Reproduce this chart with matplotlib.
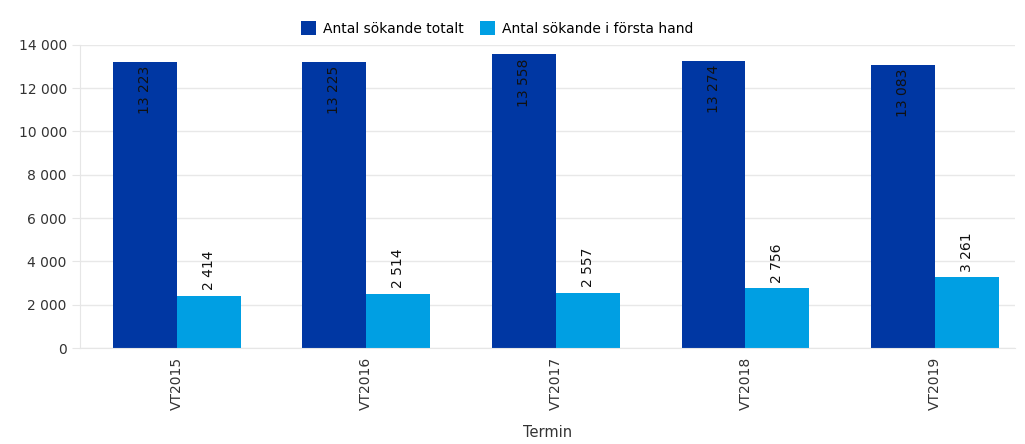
import matplotlib.pyplot as plt
import numpy as np
from matplotlib.ticker import FuncFormatter

terminer = ["VT2015", "VT2016", "VT2017", "VT2018", "VT2019"]
totalt = [13223, 13225, 13558, 13274, 13083]
forsta_hand = [2414, 2514, 2557, 2756, 3261]

def fmt(v):
    return f"{int(v):,}".replace(",", " ")

fig = plt.figure(figsize=(10.25, 4.44), dpi=100)
ax = fig.add_axes([0.078, 0.216, 0.912, 0.683])

x = np.arange(len(terminer))
w = 0.337
dark = "#0037a3"
light = "#009fe3"

b1 = ax.bar(x - w / 2, totalt, w, color=dark, label="Antal sökande totalt", zorder=2)
b2 = ax.bar(x + w / 2, forsta_hand, w, color=light, label="Antal sökande i första hand", zorder=2)

for rect, v in zip(b1, totalt):
    ax.text(rect.get_x() + rect.get_width() / 2, v - 200, fmt(v), rotation=90,
            ha="center", va="top", fontsize=10, color="#111111")
for rect, v in zip(b2, forsta_hand):
    ax.text(rect.get_x() + rect.get_width() / 2, v + 250, fmt(v), rotation=90,
            ha="center", va="bottom", fontsize=10, color="#111111")

ax.set_ylim(0, 14000)
ax.set_xlim(-0.51, 4.42)
ax.set_yticks(range(0, 14001, 2000))
ax.yaxis.set_major_formatter(FuncFormatter(lambda v, p: fmt(v)))
ax.set_xticks(x)
ax.set_xticklabels(terminer, rotation=90, fontsize=10, color="#333333")
ax.tick_params(axis="y", labelsize=10, colors="#333333", length=6, color="#e6e6e6")
ax.tick_params(axis="x", length=0, pad=6)
ax.grid(axis="y", color="#e8e8e8", linewidth=1, zorder=0)
for s in ["top", "right"]:
    ax.spines[s].set_visible(False)
ax.spines["left"].set_color("#e6e6e6")
ax.spines["bottom"].set_color("#e6e6e6")
ax.set_xlabel("Termin", fontsize=10.5, color="#333333", labelpad=11)

fig.legend(loc="upper center", bbox_to_anchor=(0.485, 0.98), ncol=2, frameon=False,
           fontsize=10, handlelength=1.1, handleheight=1.1, columnspacing=1.2, handletextpad=0.5)

fig.savefig("out.png", dpi=100)
